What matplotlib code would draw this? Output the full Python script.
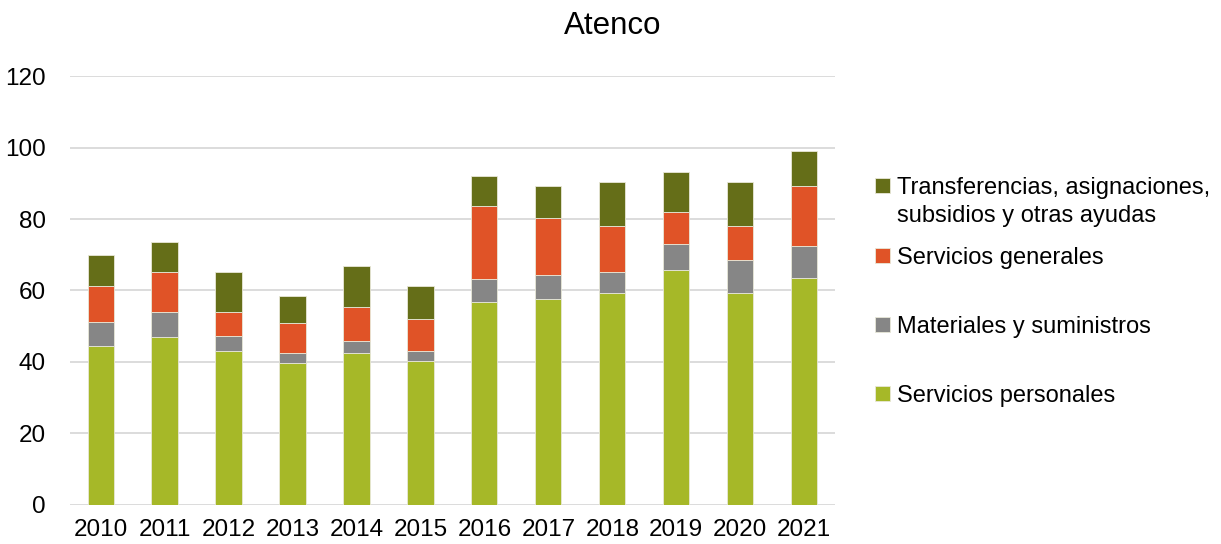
import matplotlib
matplotlib.use("Agg")
import matplotlib.pyplot as plt
import numpy as np

plt.rcParams['font.family'] = ['Liberation Sans', 'DejaVu Sans']

years = ["2010", "2011", "2012", "2013", "2014", "2015", "2016", "2017", "2018", "2019", "2020", "2021"]
servicios_personales = [44.6, 46.9, 43.0, 39.6, 42.4, 40.2, 56.9, 57.5, 59.2, 65.8, 59.2, 63.6]
materiales = [6.7, 7.2, 4.4, 2.8, 3.4, 2.8, 6.2, 6.7, 6.1, 7.2, 9.4, 8.9]
servicios_generales = [10.0, 11.1, 6.7, 8.4, 9.5, 8.9, 20.5, 16.1, 12.7, 9.0, 9.4, 16.7]
transferencias = [8.5, 8.4, 11.1, 7.7, 11.6, 9.4, 8.4, 8.9, 12.3, 11.1, 12.3, 9.9]

labels = ["Servicios personales", "Materiales y suministros", "Servicios generales",
          "Transferencias, asignaciones,"]
label_cont = "subsidios y otras ayudas"
colors = ["#A6B828", "#868686", "#E05327", "#656E18"]
series = [servicios_personales, materiales, servicios_generales, transferencias]

fig = plt.figure(figsize=(12.21, 5.44), dpi=100)
ax = fig.add_axes([0.057, 0.072, 0.627, 0.788])

x = np.arange(len(years))
bottom = np.zeros(len(years))
handles = []
for vals, col, lab in zip(series, colors, labels):
    h = ax.bar(x, vals, width=0.41, bottom=bottom, color=col, label=lab,
               edgecolor="#E8E8D8", linewidth=0.6, zorder=3)
    handles.append(h)
    bottom += np.array(vals)

ax.set_ylim(0, 120)
ax.set_xlim(-0.485, 11.485)
ax.set_yticks(range(0, 121, 20))
ax.set_xticks(x)
ax.set_xticklabels(years)
ax.yaxis.grid(True, color="#D9D9D9", linewidth=1.3, zorder=0)
ax.set_axisbelow(True)
for s in ax.spines.values():
    s.set_visible(False)
ax.tick_params(axis='both', length=0, labelsize=17.5, colors="#000000")
ax.tick_params(axis='y', pad=17)
ax.tick_params(axis='x', pad=10)

fig.text(0.502, 0.953, "Atenco", ha="center", va="center", fontsize=22.5)

leg = fig.legend(handles[::-1], labels[::-1], loc="center left",
                 bbox_to_anchor=(0.6995, 0.463), frameon=False, fontsize=17,
                 handlelength=0.6, handleheight=0.6, handletextpad=0.3,
                 labelspacing=2.0)

fig.canvas.draw()
t0 = leg.get_texts()[0]
bb = t0.get_window_extent()
fig.text(bb.x0 / fig.bbox.width, (bb.y0 + bb.height / 2 - 28) / fig.bbox.height,
         label_cont, ha="left", va="center", fontsize=17)

fig.savefig("out.png", dpi=100)
